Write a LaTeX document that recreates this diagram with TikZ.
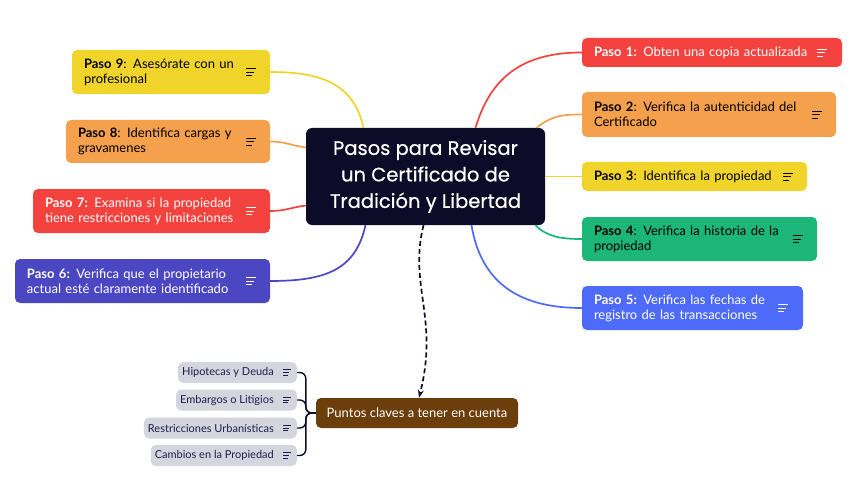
\documentclass[tikz,border=0pt]{standalone}
\usepackage{fontspec}
\setmainfont{Lato}
\newfontfamily\titlefont[FakeBold=0.6]{Poppins}
\usetikzlibrary{arrows.meta}

\definecolor{fondo}{HTML}{0C0C28}
\definecolor{rojo}{HTML}{F4433F}
\definecolor{naranja}{HTML}{F4A04C}
\definecolor{amarillo}{HTML}{F0D42A}
\definecolor{verde}{HTML}{1DB679}
\definecolor{azul}{HTML}{4D6BF8}
\definecolor{indigo}{HTML}{4B47C2}
\definecolor{cafe}{HTML}{6B3E0B}
\definecolor{gris}{HTML}{D5D5DD}
\definecolor{tinta}{HTML}{1E1E50}

\begin{document}
\begin{tikzpicture}[x=1pt, y=-1pt, >={Stealth[length=8pt,width=6pt]},
    every node/.style={font=\fontsize{13}{15}\selectfont},
    paso/.style={rounded corners=5pt, inner xsep=12pt, inner ysep=0pt,
        align=left, text width=#1, minimum height=44pt},
    sub/.style={rounded corners=5pt, fill=gris, text=tinta, anchor=east,
        inner xsep=4pt, inner ysep=0pt, minimum height=21pt,
        font=\fontsize{11}{13}\selectfont},
    rama/.style={line width=1.7pt},
    lista/.pic={\draw[line width=0.9pt] (-5,-3.5) -- (5,-3.5) (-5,0) -- (3,0) (-5,3.5) -- (1,3.5);}]
    \useasboundingbox (0,0) rectangle (857,484);

    % nodo central
    \node[fill=fondo, text=white, rounded corners=6pt, minimum width=239pt, minimum height=97pt,
        align=center, font=\titlefont\fontsize{19.5}{26.5}\selectfont] (c) at (425.5,176.5)
        {Pasos para Revisar\\un Certificado de\\Tradición y Libertad};

    % lado derecho
    \node[paso=236pt, fill=rojo, text=white, minimum height=29pt] (p1) at (712,52.5) {\textbf{Paso 1:} Obten una copia actualizada};
    \node[paso=230pt, fill=naranja, minimum height=45pt] (p2) at (709,114.5) {\textbf{Paso 2}: Verifica la autenticidad del\\Certificado};
    \node[paso=201pt, fill=amarillo, minimum height=29pt] (p3) at (694.5,176.5) {\textbf{Paso 3}: Identifica la propiedad};
    \node[paso=211pt, fill=verde] (p4) at (699.5,239) {\textbf{Paso 4}: Verifica la historia de la\\propiedad};
    \node[paso=197pt, fill=azul, text=white] (p5) at (692.5,308) {\textbf{Paso 5:} Verifica las fechas de\\registro de las transacciones};

    % lado izquierdo
    \node[paso=174pt, fill=amarillo] (p9) at (171,72) {\textbf{Paso 9}: Asesórate con un\\profesional};
    \node[paso=180pt, fill=naranja, minimum height=43pt] (p8) at (168,141.5) {\textbf{Paso 8}: Identifica cargas y\\gravamenes};
    \node[paso=213pt, fill=rojo, text=white] (p7) at (151.5,211) {\textbf{Paso 7:} Examina si la propiedad\\tiene restricciones y limitaciones};
    \node[paso=231pt, fill=indigo, text=white] (p6) at (142.5,281) {\textbf{Paso 6:} Verifica que el propietario\\actual esté claramente identificado};

    % puntos claves
    \node[fill=cafe, text=white, rounded corners=5pt, minimum width=202pt, minimum height=30pt] (pc) at (417,413) {Puntos claves a tener en cuenta};
    \node[sub] (s1) at (297,372.5) {Hipotecas y Deuda\hspace*{19pt}};
    \node[sub] (s2) at (297,400) {Embargos o Litigios\hspace*{19pt}};
    \node[sub] (s3) at (297,428) {Restricciones Urbanísticas\hspace*{19pt}};
    \node[sub] (s4) at (297,455.5) {Cambios en la Propiedad\hspace*{19pt}};

    % iconos
    \pic[white] at ([xshift=-20pt]p1.east) {lista};
    \pic at ([xshift=-19pt]p2.east) {lista};
    \pic at ([xshift=-19pt]p3.east) {lista};
    \pic at ([xshift=-19pt]p4.east) {lista};
    \pic[white] at ([xshift=-20pt]p5.east) {lista};
    \pic at ([xshift=-19pt]p9.east) {lista};
    \pic at ([xshift=-19pt]p8.east) {lista};
    \pic[white] at ([xshift=-19pt]p7.east) {lista};
    \pic[white] at ([xshift=-19pt]p6.east) {lista};
    \foreach \s in {s1,s2,s3,s4}
        \pic[tinta, scale=0.8] at ([xshift=-10pt]\s.east) {lista};

    % ramas
    \draw[rama, rojo] ([xshift=50pt]c.north) .. controls +(15,-50) and +(-60,0) .. (p1.west);
    \draw[rama, naranja] ([xshift=111pt]c.north) .. controls +(15,-12) and +(-20,0) .. (p2.west);
    \draw[rama, amarillo] (c.east) -- (p3.west);
    \draw[rama, verde] ([xshift=110pt]c.south) .. controls +(12,12) and +(-20,0) .. (p4.west);
    \draw[rama, azul] ([xshift=46pt]c.south) .. controls +(10,60) and +(-60,0) .. (p5.west);
    \draw[rama, amarillo] ([xshift=-62pt]c.north) .. controls +(-10,-45) and +(50,0) .. (p9.east);
    \draw[rama, naranja] ([yshift=29pt]c.west) .. controls +(-15,-2) and +(15,0) .. (p8.east);
    \draw[rama, rojo] ([yshift=-29pt]c.west) .. controls +(-15,2) and +(15,0) .. (p7.east);
    \draw[rama, indigo] ([xshift=-60pt]c.south) .. controls +(-10,45) and +(55,0) .. (p6.east);
    \draw[rama, fondo, dash pattern=on 5pt off 3pt, ->] ([xshift=-2pt]c.south) .. controls +(-15,60) and +(20,-80) .. ([xshift=2pt]pc.north);
    \foreach \s in {s1,s2,s3,s4}
        \draw[line width=1.4pt, fondo, rounded corners=6pt] (pc.west) -- ++(-10,0) |- (\s.east);
\end{tikzpicture}
\end{document}
